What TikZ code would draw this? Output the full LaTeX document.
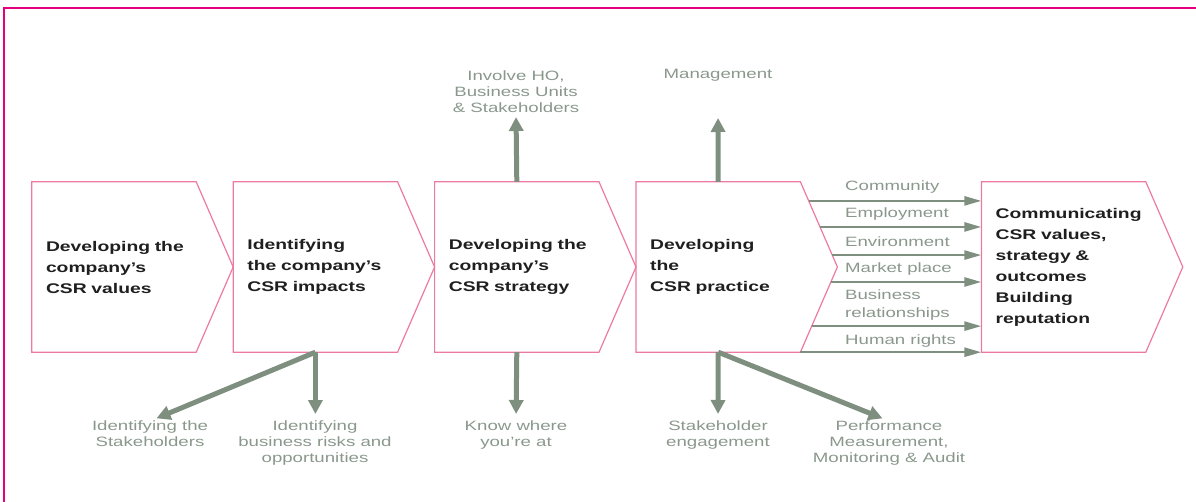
\documentclass[tikz,border=0pt]{standalone}
\usepackage{fontspec}
\setmainfont{Liberation Sans}[FakeStretch=1.38]
\usetikzlibrary{positioning,arrows.meta,calc}
\definecolor{framepink}{RGB}{228,0,124}
\definecolor{boxpink}{RGB}{236,122,162}
\definecolor{arrowgrey}{RGB}{126,143,128}
\definecolor{labelgrey}{RGB}{138,152,140}

\begin{document}
\begin{tikzpicture}[x=1pt, y=-1pt,
        stage/.style = {minimum width=164pt, minimum height=170pt, inner sep=0pt,
            text width=136pt, align=left, text=black!88,
            font=\fontsize{14}{21}\selectfont\bfseries},
        outline/.style = {draw=boxpink, line width=1.2pt},
        lbl/.style = {text=labelgrey, align=center, inner sep=0pt,
            font=\fontsize{13.5}{16}\selectfont},
        bigarrow/.style = {draw=arrowgrey, line width=5pt, shorten >=7pt,
            -{Triangle[length=14pt,width=14pt]}},
        smallarrow/.style = {draw=arrowgrey, line width=2.5pt,
            -{Triangle[length=17pt,width=9pt]}}]
    \useasboundingbox (0,0) rectangle (1196,502);
    \draw[framepink, line width=2.8pt] (4,502) -- (4,8) -- (1196,8);

    \node[stage] (values) at (114,267) {Developing~the\\company’s\\CSR~values};
    \node[stage, right=37pt of values] (impacts) {Identifying\\the~company’s\\CSR~impacts};
    \node[stage, right=37pt of impacts] (strategy) {Developing~the\\company’s\\CSR~strategy};
    \node[stage, right=37pt of strategy] (practice) {Developing\\the\\CSR~practice};
    \node[stage, right=181pt of practice] (comms) {Communicating\\CSR~values,\\strategy~\&\\outcomes\\Building\\reputation};

    \draw[outline] (values.north west) -- (values.north east) -- ([xshift=37pt]values.east)
        -- (values.south east) -- (values.south west) -- cycle;
    \draw[outline] (impacts.north west) -- (impacts.north east) -- ([xshift=37pt]impacts.east)
        -- (impacts.south east) -- (impacts.south west) -- cycle;
    \draw[outline] (strategy.north west) -- (strategy.north east) -- ([xshift=37pt]strategy.east)
        -- (strategy.south east) -- (strategy.south west) -- cycle;
    \draw[outline] (practice.north west) -- (practice.north east) -- ([xshift=37pt]practice.east)
        -- (practice.south east) -- (practice.south west) -- cycle;
    \draw[outline] (comms.north west) -- (comms.north east) -- ([xshift=37pt]comms.east)
        -- (comms.south east) -- (comms.south west) -- cycle;

    \node[lbl, anchor=south] (involve) at (516,113) {Involve HO,\\Business Units\\\& Stakeholders};
    \node[lbl, anchor=base] (mgmt) at (718,79) {Management};
    \node[lbl, anchor=north] (who) at (150,421) {Identifying the\\Stakeholders};
    \node[lbl, anchor=north] (risks) at (315,421) {Identifying\\business risks and\\opportunities};
    \node[lbl, anchor=north] (where) at (516,421) {Know where\\you’re at};
    \node[lbl, anchor=north] (engage) at (718,421) {Stakeholder\\engagement};
    \node[lbl, anchor=north] (audit) at (889,421) {Performance\\Measurement,\\Monitoring \& Audit};

    \draw[bigarrow, shorten >=4pt] (strategy.north) -- (involve.south);
    \draw[bigarrow, shorten >=36pt] (practice.north) -- (mgmt.south);
    \draw[bigarrow] (impacts.south) -- (who.north);
    \draw[bigarrow] (impacts.south) -- (impacts.south |- risks.north);
    \draw[bigarrow] (strategy.south) -- (where.north);
    \draw[bigarrow] (practice.south) -- (engage.north);
    \draw[bigarrow] (practice.south) -- (audit.north);

    \coordinate (tip) at ([xshift=37pt]practice.east);
    \coordinate (s1) at ($(practice.north east)!0.224!(tip)$);
    \coordinate (s2) at ($(practice.north east)!0.53!(tip)$);
    \coordinate (s3) at ($(practice.north east)!0.86!(tip)$);
    \coordinate (s4) at ($(tip)!0.176!(practice.south east)$);
    \coordinate (s5) at ($(tip)!0.694!(practice.south east)$);
    \coordinate (s6) at (practice.south east);

    \node[lbl, anchor=west] (community) at (845,187) {Community};
    \node[lbl, anchor=west] (employment) at (845,214) {Employment};
    \node[lbl, anchor=west] (environment) at (845,242) {Environment};
    \node[lbl, anchor=west] (market) at (845,269) {Market place};
    \node[lbl, anchor=west, align=left, font=\fontsize{13.5}{18}\selectfont] (business) at (845,305) {Business\\relationships};
    \node[lbl, anchor=west] (rights) at (845,341) {Human rights};

    \draw[smallarrow] (s1) -- (s1 -| comms.west);
    \draw[smallarrow] (s2) -- (s2 -| comms.west);
    \draw[smallarrow] (s3) -- (s3 -| comms.west);
    \draw[smallarrow] (s4) -- (s4 -| comms.west);
    \draw[smallarrow] (s5) -- (s5 -| comms.west);
    \draw[smallarrow] (s6) -- (s6 -| comms.west);
\end{tikzpicture}
\end{document}
